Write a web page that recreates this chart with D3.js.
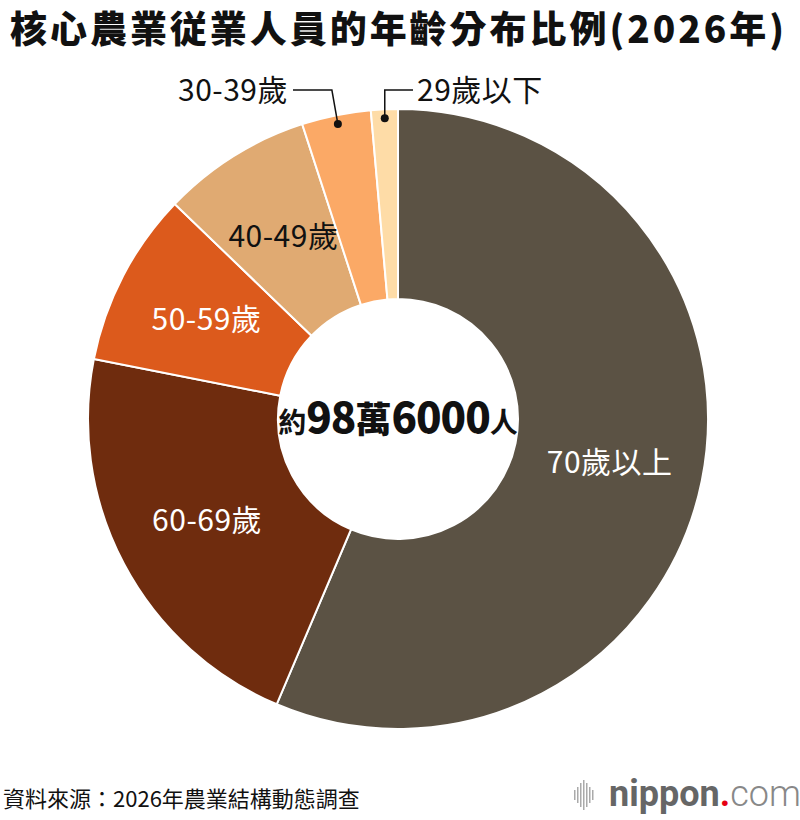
<!DOCTYPE html>
<html>
<head>
<meta charset="utf-8">
<script src="https://cdn.jsdelivr.net/npm/d3@7"></script>
<style>
  body { margin: 0; background: #fff; }
  svg { display: block; font-family: "Noto Sans CJK TC", "Noto Sans", sans-serif; }
</style>
</head>
<body>
<svg id="chart"></svg>
<script>
// age groups, clockwise from 12 o'clock
var groups = ["70歲以上", "60-69歲", "50-59歲", "40-49歲", "30-39歲", "29歲以下"];
var shares = [56.4, 21.7, 9.1, 7.8, 3.6, 1.4];
var colors = ["#5b5244", "#6f2c0e", "#dc5a1c", "#e0aa72", "#fba966", "#fedca7"];
var labelColors = ["#fff", "#fff", "#fff", "#111", "#111", "#111"];
var outside = [false, false, false, false, true, true];

var title = "核心農業従業人員的年齡分布比例(2026年)";
var source = "資料來源：2026年農業結構動態調查";

var width = 800, height = 820;
var cx = 398, cy = 419;
var outerR = 310, innerR = 120;

var svg = d3.select("#chart")
    .attr("width", width)
    .attr("height", height);

svg.append("text")
    .attr("x", 10)
    .attr("y", 43)
    .attr("font-size", 37)
    .attr("font-weight", 900)
    .attr("textLength", 774)
    .attr("lengthAdjust", "spacing")
    .attr("fill", "#111")
    .text(title);

var data = groups.map(function (g, i) {
    return {name: g, value: shares[i], color: colors[i], lc: labelColors[i], out: outside[i]};
});

var pie = d3.pie()
    .sort(null)
    .value(function (d) { return d.value; });

var arc = d3.arc()
    .innerRadius(innerR)
    .outerRadius(outerR);

var labelArc = d3.arc().innerRadius(216).outerRadius(216);
var dotArc = d3.arc().innerRadius(301).outerRadius(301);

var g = svg.append("g")
    .attr("transform", "translate(" + cx + "," + cy + ")");

var arcs = pie(data);

g.selectAll(".slice")
    .data(arcs)
    .enter().append("path")
    .attr("class", "slice")
    .attr("d", arc)
    .attr("fill", function (d) { return d.data.color; })
    .attr("stroke", "#fff")
    .attr("stroke-width", 2);

// labels inside the ring
g.selectAll(".lbl")
    .data(arcs.filter(function (d) { return !d.data.out; }))
    .enter().append("text")
    .attr("class", "lbl")
    .attr("transform", function (d) { return "translate(" + labelArc.centroid(d) + ")"; })
    .attr("text-anchor", "middle")
    .attr("dy", "0.36em")
    .attr("font-size", 30)
    .attr("letter-spacing", 0.5)
    .attr("fill", function (d) { return d.data.lc; })
    .text(function (d) { return d.data.name; });

// small slices: leader lines to the top
var outs = arcs.filter(function (d) { return d.data.out; });
var lineY = 90 - cy;
outs.forEach(function (d, i) {
    var p = dotArc.centroid(d);
    var left = i === 0;
    var pts;
    if (left) {
        pts = [[-105, lineY], [p[0] - 6, lineY], p];
    } else {
        pts = [[15, lineY], [p[0], lineY], p];
    }
    g.append("path")
        .attr("d", d3.line()(pts))
        .attr("fill", "none")
        .attr("stroke", "#111")
        .attr("stroke-width", 1.5);
    g.append("circle")
        .attr("cx", p[0])
        .attr("cy", p[1])
        .attr("r", 4)
        .attr("fill", "#111");
    g.append("text")
        .attr("x", left ? -110 : 19)
        .attr("y", lineY)
        .attr("dy", "0.36em")
        .attr("text-anchor", left ? "end" : "start")
        .attr("font-size", 30)
        .attr("letter-spacing", 0.5)
        .attr("fill", "#111")
        .text(d.data.name);
});

// centre total
var ct = g.append("text")
    .attr("text-anchor", "middle")
    .attr("y", 14)
    .attr("fill", "#111")
    .attr("font-weight", 900);
ct.append("tspan").attr("font-size", 28).attr("font-weight", 700).text("約");
ct.append("tspan").attr("font-size", 42).attr("letter-spacing", -1).text("98");
ct.append("tspan").attr("font-size", 36).text("萬");
ct.append("tspan").attr("font-size", 42).attr("letter-spacing", -1).text("6000");
ct.append("tspan").attr("font-size", 28).attr("font-weight", 700).text("人");

// footer
svg.append("text")
    .attr("x", 3)
    .attr("y", 807)
    .attr("font-size", 22)
    .attr("fill", "#111")
    .text(source);

var logo = svg.append("g").attr("transform", "translate(574,806)");
var barH = [10, 16, 24, 30, 24, 16, 10];
logo.selectAll("rect")
    .data(barH)
    .enter().append("rect")
    .attr("x", function (d, i) { return i * 3; })
    .attr("y", function (d) { return -11 - d / 2; })
    .attr("width", 1.5)
    .attr("height", function (d) { return d; })
    .attr("fill", "#aaa");
var lt = logo.append("text")
    .attr("x", 35)
    .attr("y", 0)
    .attr("font-family", "Roboto, sans-serif")
    .attr("font-size", 36);
lt.append("tspan").attr("font-weight", 700).attr("fill", "#666").text("nippon");
lt.append("tspan").attr("font-weight", 700).attr("fill", "#e60012").text(".");
lt.append("tspan").attr("font-weight", 300).attr("fill", "#888").text("com");
</script>
</body>
</html>
